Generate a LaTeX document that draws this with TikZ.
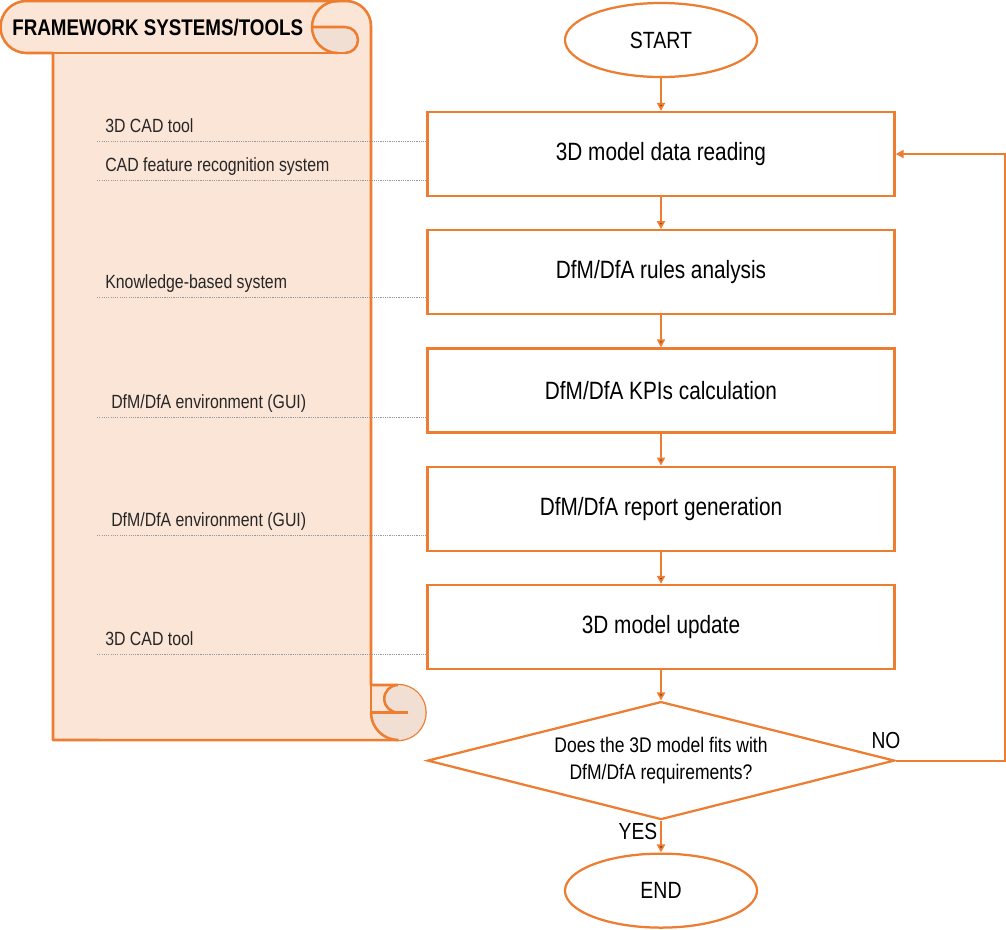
\documentclass[tikz,border=0pt]{standalone}
\usepackage{fontspec}
\setmainfont{Liberation Sans}[FakeStretch=0.83]
\usetikzlibrary{shapes.geometric, arrows.meta, positioning}
\definecolor{orng}{HTML}{ED7D31}
\definecolor{peach}{HTML}{FBE5D6}
\definecolor{curl}{HTML}{F1DFD3}
\tikzset{>={Triangle[length=2mm,width=2mm]}, node distance=2.955cm}
\tikzset{
  term/.style={ellipse, draw=orng, line width=1.6pt, fill=white, minimum width=4.8cm, minimum height=1.85cm, font=\fontsize{16.7}{20}\selectfont},
  proc/.style={rectangle, draw=orng, line width=1.6pt, fill=white, minimum width=11.675cm, minimum height=2.1cm, font=\fontsize{17.8}{21}\selectfont},
  decide/.style={diamond, draw=orng, line width=1.6pt, fill=white, aspect=3.96, inner sep=0pt, minimum width=11.675cm, minimum height=2.95cm, align=center, font=\fontsize{15}{19}\selectfont},
  flow/.style={draw=orng, line width=1.5pt, ->},
  scroll/.style={draw=orng, line width=1.8pt, line join=round},
  tool/.style={anchor=base west, inner sep=0pt, font=\fontsize{13.6}{16}\selectfont, text=black!85},
  guide/.style={draw=gray!80, line width=0.6pt, dash pattern=on 0.8pt off 0.8pt}
}

\begin{document}
\begin{tikzpicture}[x=0.025cm, y=0.025cm]
\useasboundingbox (0,0) rectangle (1006,-929);

% scroll with the systems / tools
\filldraw[scroll, fill=peach] (26.5,-1) -- (346,-1) arc[start angle=90, end angle=0, radius=0.625cm]
  -- (371,-685) -- (398,-685) arc[start angle=90, end angle=-90, radius=0.6875cm]
  -- (53,-740) -- (53,-53) -- (26.5,-53) arc[start angle=270, end angle=90, radius=0.65cm] -- cycle;
\fill[curl] (338,-53) arc[start angle=270, end angle=180, radius=0.65cm]
  -- (345,-27) arc[start angle=90, end angle=-90, radius=0.325cm] -- cycle;
\draw[scroll] (338,-1) arc[start angle=90, end angle=270, radius=0.65cm];
\draw[scroll] (312,-27) -- (345,-27) arc[start angle=90, end angle=-90, radius=0.325cm];
\draw[scroll] (53,-53) -- (345,-53);
\fill[curl] (398,-685) arc[start angle=90, end angle=-180, radius=0.6875cm] -- (398,-712.5) -- cycle;
\filldraw[scroll, fill=curl] (398,-685) arc[start angle=90, end angle=270, radius=0.3438cm];
\draw[scroll] (371,-685) -- (371,-712.5) -- (408,-712.5);
\draw[scroll] (371,-712.5) arc[start angle=180, end angle=270, radius=0.6875cm];
\node[anchor=base west, inner sep=0pt, font=\bfseries\fontsize{16.1}{19}\selectfont] (title) at (12,-35) {FRAMEWORK SYSTEMS/TOOLS};

% flow chart
\node[term] (start) at (661,-40) {START};
\node[proc, below of=start, node distance=2.85cm] (read) {3D model data reading};
\node[proc, below of=read] (rules) {DfM/DfA rules analysis};
\node[proc, below of=rules] (kpi) {DfM/DfA KPIs calculation};
\node[proc, below of=kpi] (report) {DfM/DfA report generation};
\node[proc, below of=report] (update) {3D model update};
\node[decide, below of=update, node distance=3.34cm] (fits) {Does the 3D model fits with\\DfM/DfA requirements?};
\node[term, below of=fits, node distance=3.25cm] (end) {END};

\draw[flow] (start) edge (read)
    (read) edge (rules)
    (rules) edge (kpi)
    (kpi) edge (report)
    (report) edge (update)
    (update) edge (fits)
    (fits) edge (end);
\draw[flow] (fits.east) -- ++(109,0) |- (read.east);
\node[font=\fontsize{16.5}{19}\selectfont] (no) at (886,-740) {NO};
\node[font=\fontsize{16.5}{19}\selectfont] (yes) at (638,-831) {YES};

% tools and guide lines
\node[tool] (t1) at (105,-132) {3D CAD tool};
\node[tool] (t2) at (105,-171) {CAD feature recognition system};
\node[tool] (t3) at (105,-288) {Knowledge-based system};
\node[tool] (t4) at (111,-408) {DfM/DfA environment (GUI)};
\node[tool] (t5) at (111,-526) {DfM/DfA environment (GUI)};
\node[tool] (t6) at (105,-645) {3D CAD tool};
\coordinate (g1) at (97,-141);
\coordinate (g2) at (97,-180);
\coordinate (g3) at (97,-297);
\coordinate (g4) at (97,-417);
\coordinate (g5) at (97,-535);
\coordinate (g6) at (97,-654);
\draw[guide] (g1) -- (g1 -| read.west);
\draw[guide] (g2) -- (g2 -| read.west);
\draw[guide] (g3) -- (g3 -| rules.west);
\draw[guide] (g4) -- (g4 -| kpi.west);
\draw[guide] (g5) -- (g5 -| report.west);
\draw[guide] (g6) -- (g6 -| update.west);
\end{tikzpicture}
\end{document}
